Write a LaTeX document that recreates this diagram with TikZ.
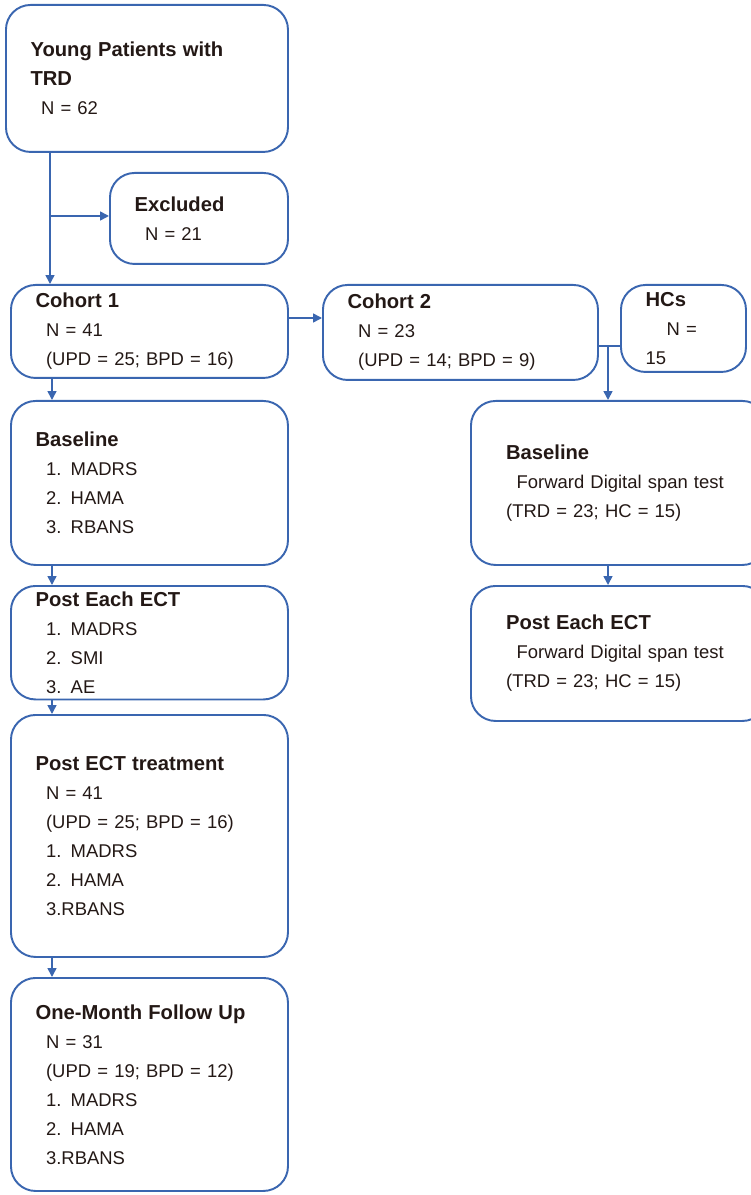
\documentclass[tikz,border=0pt]{standalone}
\usepackage{fontspec}
\setmainfont{Liberation Sans}
\usetikzlibrary{positioning,arrows.meta}
\definecolor{boxblue}{HTML}{3A66B0}
\definecolor{ink}{HTML}{231815}
\tikzset{
    flowbox/.style={draw=boxblue, line width=1.1pt, rounded corners=14pt, anchor=north west,
        align=left, text=ink, inner xsep=13pt, font=\fontsize{10.5}{16.5}\selectfont},
    boxsize/.style 2 args={minimum width=#1*0.02cm, minimum height=#2*0.02cm, text width=#1*0.02cm-28pt},
    link/.style={draw=boxblue, line width=0.9pt, -{Triangle[length=5pt,width=5pt]}},
    plain/.style={draw=boxblue, line width=0.9pt}
}
\newcommand{\hd}[1]{{\bfseries\fontsize{11.5}{16.5}\selectfont #1}}
\newcommand{\ind}{\hspace*{6pt}}

\begin{document}
\begin{tikzpicture}[x=0.02cm, y=-0.02cm]
    \useasboundingbox (0,0) rectangle (750,1195);

    % left column
    \node[flowbox, boxsize={282}{147}] (young) at (5,4)
        {\hd{Young Patients with\\TRD}\\\ind N = 62};
    \node[flowbox, boxsize={178}{91}] (excl) at (109,172)
        {\hd{Excluded}\\\ind N = 21};
    \node[flowbox, boxsize={277}{93}] (coh1) at (10,284)
        {\hd{Cohort 1}\\\ind N = 41\\\ind (UPD = 25; BPD = 16)};
    \node[flowbox, boxsize={277}{164}] (base1) at (10,400)
        {\hd{Baseline}\\\ind 1. MADRS\\\ind 2. HAMA\\\ind 3. RBANS};
    \node[flowbox, boxsize={277}{102}] (each1) at (10,585)
        {\hd{Post Each ECT}\\\ind 1. MADRS\\\ind 2. SMI\\\ind 3. AE};
    \node[flowbox, boxsize={277}{242}] (post1) at (10,714)
        {\hd{Post ECT treatment}\\\ind N = 41\\\ind (UPD = 25; BPD = 16)\\\ind 1. MADRS\\\ind 2. HAMA\\\ind 3.RBANS};
    \node[flowbox, boxsize={277}{213}] (follow) at (10,977)
        {\hd{One-Month Follow Up}\\\ind N = 31\\\ind (UPD = 19; BPD = 12)\\\ind 1. MADRS\\\ind 2. HAMA\\\ind 3.RBANS};

    % right column
    \node[flowbox, boxsize={275}{95}] (coh2) at (322,284)
        {\hd{Cohort 2}\\\ind N = 23\\\ind (UPD = 14; BPD = 9)};
    \node[flowbox, boxsize={125}{87}, inner xsep=8pt] (hcs) at (620,284)
        {\hd{HCs}\\\ind\ind N = 15\\[18pt]};
    \node[flowbox, boxsize={275}{164}, inner xsep=20pt] (base2) at (470,400)
        {\hd{Baseline}\\\ind Forward Digital span test\\(TRD = 23; HC = 15)};
    \node[flowbox, boxsize={275}{135}, inner xsep=20pt] (each2) at (470,585)
        {\hd{Post Each ECT}\\\ind Forward Digital span test\\(TRD = 23; HC = 15)};

    % connectors
    \coordinate (split) at (50,216);
    \coordinate (tee) at (608,346);
    \draw[link] (young.south -| split) -- (coh1.north -| split);
    \draw[link] (split) -- (excl.west |- split);
    \draw[link] (coh1.east |- 0,318) -- (coh2.west |- 0,318);
    \draw[plain] (coh2.east |- tee) -- (hcs.west |- tee);
    \draw[link] (tee) -- (base2.north -| tee);
    \draw[link] (coh1.south -| 52,0) -- (base1.north -| 52,0);
    \draw[link] (base1.south -| 52,0) -- (each1.north -| 52,0);
    \draw[link] (each1.south -| 52,0) -- (post1.north -| 52,0);
    \draw[link] (post1.south -| 52,0) -- (follow.north -| 52,0);
    \draw[link] (base2.south -| tee) -- (each2.north -| tee);
\end{tikzpicture}
\end{document}
